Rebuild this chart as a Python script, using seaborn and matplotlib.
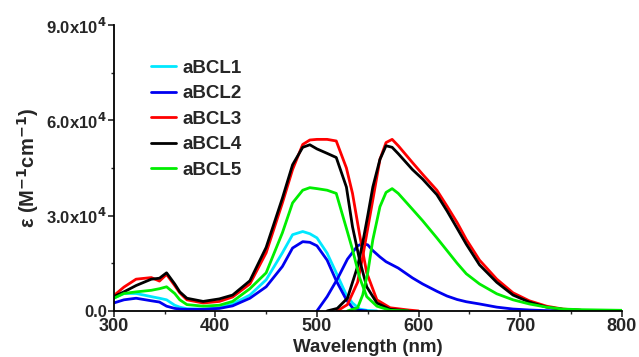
import numpy as np
import pandas as pd
import matplotlib
matplotlib.use("Agg")
import matplotlib.pyplot as plt
from matplotlib.ticker import AutoMinorLocator
import seaborn as sns

# absorption spectra (nm, M^-1 cm^-1)
abs_nm = [300, 310, 322, 337, 345, 352, 360, 365, 372, 388, 404, 417, 434, 450,
          466, 476, 486, 493, 500, 510, 519, 529, 535, 542, 549, 559, 572, 590, 600]
abs_bcl1 = [4.0e3, 5.5e3, 5.5e3, 4.5e3, 4.0e3, 3.5e3, 1.8e3, 1.2e3, 0.7e3, 0.6e3, 1.0e3, 2.2e3, 5.0e3, 9.8e3,
            18.3e3, 24.0e3, 25.0e3, 24.3e3, 23.0e3, 18.2e3, 12.0e3, 5.0e3, 2.5e3, 0.6e3, 0.2e3, 0.0, np.nan, np.nan, np.nan]
abs_bcl2 = [2.5e3, 3.5e3, 4.0e3, 3.2e3, 2.8e3, 1.5e3, 0.8e3, 0.6e3, 0.5e3, 0.5e3, 0.8e3, 1.6e3, 4.0e3, 7.6e3,
            14.0e3, 19.8e3, 21.8e3, 21.6e3, 20.5e3, 16.0e3, 9.5e3, 3.5e3, 1.0e3, 0.2e3, 0.0, np.nan, np.nan, np.nan, np.nan]
abs_bcl3 = [4.8e3, 7.5e3, 10.0e3, 10.5e3, 9.4e3, 11.5e3, 8.0e3, 5.7e3, 3.5e3, 2.5e3, 3.0e3, 4.4e3, 8.5e3, 18.3e3,
            34.0e3, 44.5e3, 52.4e3, 53.8e3, 54.0e3, 54.0e3, 53.5e3, 45.0e3, 37.0e3, 24.0e3, 12.0e3, 3.5e3, 1.0e3, 0.3e3, 0.0]
abs_bcl4 = [4.5e3, 6.0e3, 8.0e3, 10.0e3, 10.3e3, 12.0e3, 8.5e3, 6.0e3, 4.0e3, 3.0e3, 3.8e3, 5.0e3, 9.5e3, 20.0e3,
            35.5e3, 46.0e3, 51.5e3, 52.3e3, 51.0e3, 49.6e3, 48.3e3, 39.0e3, 26.5e3, 16.0e3, 7.6e3, 2.5e3, 0.5e3, 0.0, np.nan]
abs_bcl5 = [4.0e3, 5.5e3, 6.0e3, 6.5e3, 7.0e3, 7.6e3, 5.5e3, 3.5e3, 2.0e3, 1.5e3, 1.8e3, 3.0e3, 7.0e3, 12.0e3,
            24.6e3, 34.0e3, 38.0e3, 38.8e3, 38.5e3, 38.0e3, 37.0e3, 26.0e3, 19.3e3, 10.5e3, 4.5e3, 1.5e3, 0.2e3, 0.0, np.nan]

# emission spectra, scaled to the absorption maximum
em_nm = [500, 510, 520, 530, 540, 545, 550, 555, 562, 568, 574, 580, 594, 604,
         618, 628, 638, 647, 660, 677, 693, 709, 726, 742, 760, 780, 800]
em_bcl2 = [0.0, 4.5e3, 10.0e3, 16.3e3, 20.5e3, 21.2e3, 20.8e3, 19.0e3, 17.0e3, 15.5e3, 14.5e3, 13.5e3, 10.4e3, 8.5e3,
           6.2e3, 4.7e3, 3.6e3, 2.9e3, 2.2e3, 1.2e3, 0.6e3, 0.3e3, 0.1e3, 0.0, np.nan, np.nan, np.nan]
em_bcl3 = [np.nan, np.nan, 0.0, 2.0e3, 9.0e3, 17.0e3, 26.0e3, 35.0e3, 47.7e3, 53.0e3, 54.0e3, 52.0e3, 46.7e3, 43.0e3,
           38.0e3, 33.0e3, 27.8e3, 22.5e3, 16.0e3, 10.0e3, 5.7e3, 3.2e3, 1.5e3, 0.6e3, 0.2e3, np.nan, np.nan]
em_bcl4 = [np.nan, 0.0, 0.8e3, 4.0e3, 14.0e3, 21.4e3, 30.0e3, 39.0e3, 47.7e3, 52.0e3, 51.5e3, 49.5e3, 44.5e3, 41.5e3,
           36.6e3, 31.5e3, 26.0e3, 21.0e3, 14.5e3, 9.0e3, 5.0e3, 2.8e3, 1.2e3, 0.5e3, 0.2e3, np.nan, np.nan]
em_bcl5 = [np.nan, np.nan, np.nan, 0.0, 1.0e3, 5.0e3, 12.0e3, 22.4e3, 32.8e3, 37.3e3, 38.5e3, 37.0e3, 32.0e3, 28.4e3,
           23.0e3, 19.0e3, 15.0e3, 11.7e3, 8.5e3, 5.4e3, 3.5e3, 2.2e3, 1.2e3, 0.6e3, 0.4e3, 0.3e3, 0.2e3]

names = ["aBCL1", "aBCL2", "aBCL3", "aBCL4", "aBCL5"]
colors = ["#00e8ff", "#0000f0", "#ff0000", "#000000", "#00ee00"]

y_ticks = [0, 3e4, 6e4, 9e4]
y_tick_labels = ["0.0", "3.0x10$^4$", "6.0x10$^4$", "9.0x10$^4$"]
x_ticks = [300, 400, 500, 600, 700, 800]

sns.set_style("ticks")
plt.rcParams["font.family"] = ["Liberation Sans", "DejaVu Sans"]
plt.rcParams["font.weight"] = "bold"

fig, ax = plt.subplots(figsize=(6.39, 3.57), dpi=100)
fig.subplots_adjust(left=0.178, right=0.973, bottom=0.129, top=0.930)

abs_sets = [abs_bcl1, abs_bcl2, abs_bcl3, abs_bcl4, abs_bcl5]
em_sets = [None, em_bcl2, em_bcl3, em_bcl4, em_bcl5]

for name, col, a, e in zip(names, colors, abs_sets, em_sets):
    df = pd.DataFrame({"nm": abs_nm, "eps": a}).dropna()
    sns.lineplot(data=df, x="nm", y="eps", color=col, lw=2.0, ax=ax, label=name)
    if e is not None:
        de = pd.DataFrame({"nm": em_nm, "eps": e}).dropna()
        sns.lineplot(data=de, x="nm", y="eps", color=col, lw=2.0, ax=ax, legend=False)

ax.set_xlim(300, 800)
ax.set_ylim(0, 9e4)
ax.set_xticks(x_ticks)
ax.set_yticks(y_ticks)
ax.set_yticklabels(y_tick_labels)
ax.xaxis.set_minor_locator(AutoMinorLocator(2))
ax.yaxis.set_minor_locator(AutoMinorLocator(2))
ax.tick_params(axis="both", which="major", direction="out", length=4, width=1.2)
ax.tick_params(axis="both", which="minor", direction="out", length=2.5, width=1.0)
ax.tick_params(axis="x", labelsize=13, pad=1)
ax.tick_params(axis="y", labelsize=12, pad=1)
for lab in ax.get_xticklabels() + ax.get_yticklabels():
    lab.set_fontweight("bold")

sns.despine(ax=ax)
for s in ["left", "bottom"]:
    ax.spines[s].set_linewidth(1.3)
    ax.spines[s].set_color("black")

ax.set_xlabel("Wavelength (nm)", fontsize=13.5, fontweight="bold", labelpad=3)
ax.set_ylabel("ε (M$^{\\mathbf{-1}}$cm$^{\\mathbf{-1}}$)", fontsize=14.5, fontweight="bold", labelpad=4)

ax.legend(loc="upper left", bbox_to_anchor=(0.074, 0.878), frameon=False,
          fontsize=13.5, handlelength=1.3, handletextpad=0.35, labelspacing=0.44,
          borderaxespad=0, borderpad=0)

fig.savefig("out.png", dpi=100)
